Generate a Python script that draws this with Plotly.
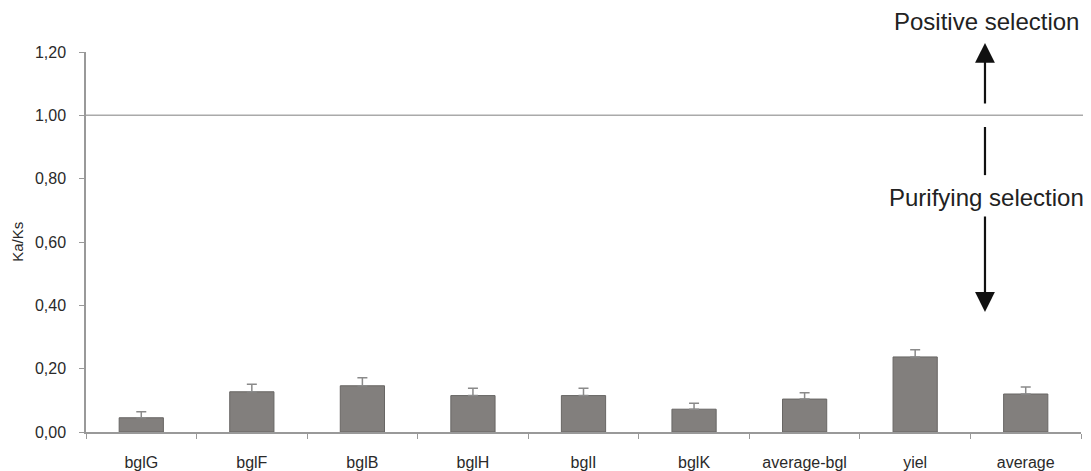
import plotly.graph_objects as go

categories = ["bglG", "bglF", "bglB", "bglH", "bglI", "bglK", "average-bgl", "yiel", "average"]
ka_ks = [0.045, 0.127, 0.146, 0.115, 0.115, 0.072, 0.104, 0.237, 0.120]
err_plus = [0.019, 0.024, 0.025, 0.023, 0.023, 0.019, 0.020, 0.023, 0.022]
y_ticks = [0.0, 0.2, 0.4, 0.6, 0.8, 1.0, 1.2]

font_family = "Liberation Sans, Arial, sans-serif"
text_color = "#2a2a2a"
axis_color = "#999999"

fig = go.Figure()
fig.add_trace(go.Bar(
    x=categories,
    y=ka_ks,
    width=0.4,
    marker=dict(color="#827f7d", line=dict(color="#686664", width=1)),
    error_y=dict(type="data", symmetric=False, array=err_plus,
                 arrayminus=[0] * len(err_plus),
                 color="#8a8a8a", thickness=1.5, width=5),
    showlegend=False,
))

# threshold line at Ka/Ks = 1
fig.add_shape(type="line", xref="paper", yref="y", x0=0, x1=1.01, y0=1.0, y1=1.0,
              line=dict(color="#aaaaaa", width=1.5))

ax_x = 0.9035
arrow_col = "#111111"
# up arrow (positive selection)
fig.add_annotation(xref="x domain", yref="y domain", axref="x domain", ayref="y domain",
                   x=ax_x, y=1.0237, ax=ax_x, ay=0.8605, text="", showarrow=True,
                   arrowhead=2, arrowsize=1.8, arrowwidth=2.2, arrowcolor=arrow_col)
# middle segment
fig.add_shape(type="line", xref="paper", yref="paper", x0=ax_x, x1=ax_x, y0=0.8026, y1=0.676,
              line=dict(color=arrow_col, width=2.2))
# down arrow (purifying selection)
fig.add_annotation(xref="x domain", yref="y domain", axref="x domain", ayref="y domain",
                   x=ax_x, y=0.316, ax=ax_x, ay=0.571, text="", showarrow=True,
                   arrowhead=2, arrowsize=1.8, arrowwidth=2.2, arrowcolor=arrow_col)

fig.add_annotation(xref="paper", yref="paper", x=ax_x + 0.002, y=1.079, text="Positive selection",
                   xanchor="center", yanchor="middle",
                   showarrow=False, font=dict(size=24, color="#222222", family=font_family))
fig.add_annotation(xref="paper", yref="paper", x=ax_x + 0.002, y=0.618, text="Purifying selection",
                   xanchor="center", yanchor="middle",
                   showarrow=False, font=dict(size=24, color="#222222", family=font_family))

# y axis title
fig.add_annotation(xref="paper", yref="paper", x=-0.0695, y=0.5, text="Ka/Ks",
                   textangle=-90, xanchor="center", yanchor="middle", showarrow=False,
                   font=dict(size=15, color=text_color, family=font_family))

fig.update_layout(
    width=1083, height=463,
    margin=dict(l=78, r=10, t=44, b=39, autoexpand=False),
    paper_bgcolor="white", plot_bgcolor="white",
    separators=",.",
    font=dict(family=font_family, color=text_color, size=16),
    bargap=0.6,
)
fig.update_xaxes(
    automargin=False,
    showline=True, linecolor=axis_color, linewidth=1.5,
    ticks="outside", tickson="boundaries", ticklen=5, tickcolor=axis_color, tickwidth=1,
    showgrid=False, tickfont=dict(size=16, color=text_color), ticklabelstandoff=15,
    range=[-0.5, 8.5],
)
fig.update_yaxes(
    automargin=False,
    range=[0, 1.2], tickvals=y_ticks, tickformat=".2f",
    showline=True, linecolor=axis_color, linewidth=1.5,
    ticks="outside", ticklen=5, tickcolor=axis_color, tickwidth=1,
    showgrid=False, zeroline=False, tickfont=dict(size=16, color=text_color),
    ticklabelstandoff=10,
)

fig.write_html("out.html")
